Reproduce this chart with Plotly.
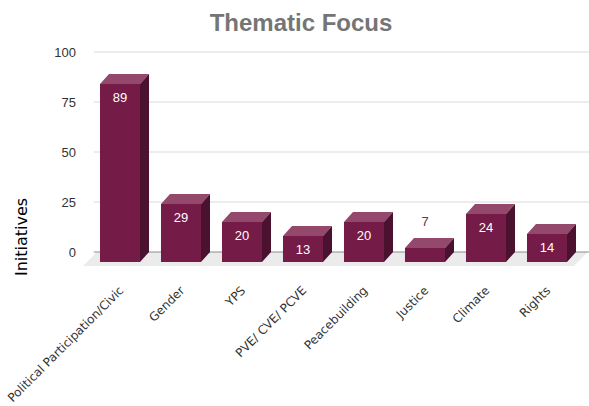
import plotly.graph_objects as go

categories = ["Political Participation/Civic", "Gender", "YPS", "PVE/ CVE/ PCVE",
              "Peacebuilding", "Justice", "Climate", "Rights"]
initiatives = [89, 29, 20, 13, 20, 7, 24, 14]
y_ticks = [0, 25, 50, 75, 100]

# style / geometry constants (not data)
BAR_W = 0.656          # front-face width in category units
DEPTH_X = 0.1475       # 3-D depth offset (x, category units)
DEPTH_Y = 5.0          # 3-D depth offset (y, value units)
FLOOR_L, FLOOR_R = -0.607, 7.44
FLOOR_DX, FLOOR_DY = 0.23, 7.0
GRID_L = -0.43
X_RANGE = [-0.6066, 7.6885]
Y_RANGE = [-9, 106]

FRONT = "#741b47"
TOP = "#93486c"
SIDE = "#4b1230"

fig = go.Figure()
shapes = []

# floor
shapes.append(dict(
    type="path", xref="x", yref="y", layer="below",
    path=(f"M {FLOOR_L},{-FLOOR_DY} L {FLOOR_R},{-FLOOR_DY} "
          f"L {FLOOR_R + FLOOR_DX},0 L {FLOOR_L + FLOOR_DX},0 Z"),
    fillcolor="#ebebeb", line=dict(width=0)))

# gridlines on the back wall
for t in y_ticks:
    shapes.append(dict(
        type="line", xref="x", yref="y", layer="below",
        x0=GRID_L, x1=X_RANGE[1], y0=t, y1=t,
        line=dict(color="#8c8c8c" if t == 0 else "#d9d9d9", width=1)))

idx = list(range(len(categories)))
base = -DEPTH_Y

# front, top and side faces computed from the data
fx, fy, tx, ty, sx, sy = [], [], [], [], [], []
for i, v in zip(idx, initiatives):
    x0, x1 = i - BAR_W / 2, i + BAR_W / 2
    yt = base + v
    fx += [x0, x1, x1, x0, x0, None]
    fy += [base, base, yt, yt, base, None]
    tx += [x0, x1, x1 + DEPTH_X, x0 + DEPTH_X, x0, None]
    ty += [yt, yt, yt + DEPTH_Y, yt + DEPTH_Y, yt, None]
    sx += [x1, x1 + DEPTH_X, x1 + DEPTH_X, x1, x1, None]
    sy += [base, base + DEPTH_Y, yt + DEPTH_Y, yt, base, None]
for xs, ys, col in ((fx, fy, FRONT), (tx, ty, TOP), (sx, sy, SIDE)):
    fig.add_trace(go.Scatter(x=xs, y=ys, fill="toself", fillcolor=col, mode="lines",
                             line=dict(width=0), hoverinfo="skip", showlegend=False))

# value labels
lab_y, lab_c = [], []
for v in initiatives:
    if v >= 10:
        lab_y.append(base + v - 7.5)
        lab_c.append("white")
    else:
        lab_y.append(v + 7.5)
        lab_c.append("#7b2a55")
fig.add_trace(go.Scatter(
    x=idx, y=lab_y, mode="text", text=[str(v) for v in initiatives],
    textfont=dict(family="Liberation Sans, Arial", size=13, color=lab_c),
    hovertext=categories, hoverinfo="text", showlegend=False))

fig.update_layout(
    width=589, height=406,
    margin=dict(l=83, r=0, t=40, b=136),
    paper_bgcolor="white", plot_bgcolor="white",
    shapes=shapes,
    title=dict(text="<b>Thematic Focus</b>", x=301 / 589, xanchor="center",
               y=1 - 23 / 406, yanchor="middle", xref="container", yref="container",
               font=dict(family="Liberation Sans, Arial", size=24, color="#757575")),
    xaxis=dict(range=X_RANGE, tickvals=idx, ticktext=categories, tickangle=-45,
               showgrid=False, zeroline=False, showline=False, ticks="",
               ticklabelstandoff=10,
               tickfont=dict(family="DejaVu Sans", size=12, color="#333333"),
               fixedrange=True),
    yaxis=dict(range=Y_RANGE, tickvals=y_ticks, showgrid=False, zeroline=False,
               showline=False, ticks="", ticklabelstandoff=6,
               tickfont=dict(family="Liberation Sans, Arial", size=13, color="#333333"),
               fixedrange=True),
    annotations=[dict(text="Initiatives", xref="paper", yref="paper",
                      x=-(83 - 21) / 506, y=(270 - 237) / 230, xanchor="center",
                      yanchor="middle", showarrow=False, textangle=-90,
                      font=dict(family="DejaVu Sans", size=16, color="#000000"))],
)

fig.write_html("out.html")
